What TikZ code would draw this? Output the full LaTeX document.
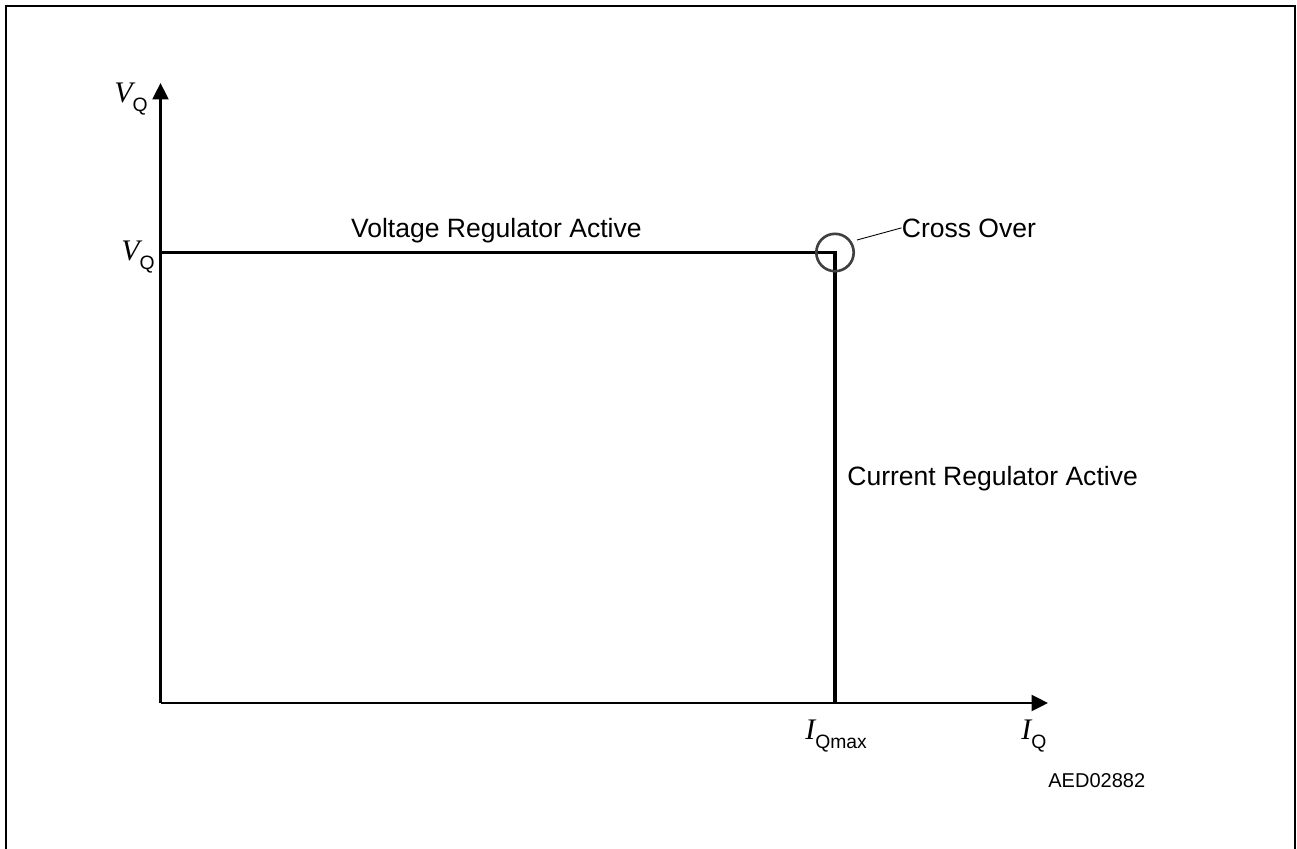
\documentclass[tikz,border=0pt]{standalone}
\usepackage{fontspec}
\setmainfont{Liberation Sans}
\newfontfamily\timesit{Liberation Serif}[ItalicFont={* Italic}]
\usetikzlibrary{arrows.meta}

% symbol with a sans subscript
\newcommand{\qlabel}[2]{{\fontsize{17}{20}\selectfont\timesit\itshape #1}\raisebox{-5.4pt}{\fontsize{11}{13}\selectfont #2}}

\begin{document}
\begin{tikzpicture}[x=0.02cm,y=-0.02cm,
  every node/.style={font=\fontsize{15.1}{18}\selectfont, inner sep=0pt},
  axis/.style={line width=1.4pt, -{Triangle[length=0.33cm,width=0.32cm]}},
  curve/.style={line width=2.1pt}]
\useasboundingbox (0,0) rectangle (1297,848);
\draw [line width=1.1pt] (6,900) -- (6,6) -- (1295,6) -- (1295,900);

\coordinate (o) at (160.5,703);
\coordinate (ytop) at (160.5,83);
\coordinate (xend) at (1048,703);
\coordinate (cross) at (835,252.5);
\coordinate (vq) at (160.5,252.5);
\coordinate (iq) at (835,703);

\draw [axis] (o) -- (ytop);
\draw [axis] (o) -- (xend);
\draw [curve] (vq) -- (cross) -- (iq);
\draw [line width=1.5pt, black!75] (cross) circle (18.7);

\node (crosslbl) [anchor=base west] at (901.5,237) {Cross Over};
\coordinate (lead) at (857,240);
\draw [line width=0.5pt] (lead) -- (crosslbl.west);

\node (vlbl) [anchor=base east] at (642,237) {Voltage Regulator Active};
\node (clbl) [anchor=base west] at (847,485) {Current Regulator Active};

\node (vqtop) [anchor=base west] at (114,102.5) {\qlabel{V}{Q}};
\node (vqmid) [anchor=base west] at (121,260) {\qlabel{V}{Q}};
\node (imax) [anchor=base west] at (805,739) {\qlabel{I}{Qmax}};
\node (ilbl) [anchor=base west] at (1021,739) {\qlabel{I}{Q}};
\node (code) [anchor=base west, font=\fontsize{11.4}{14}\selectfont] at (1048,787) {AED02882};
\end{tikzpicture}
\end{document}
